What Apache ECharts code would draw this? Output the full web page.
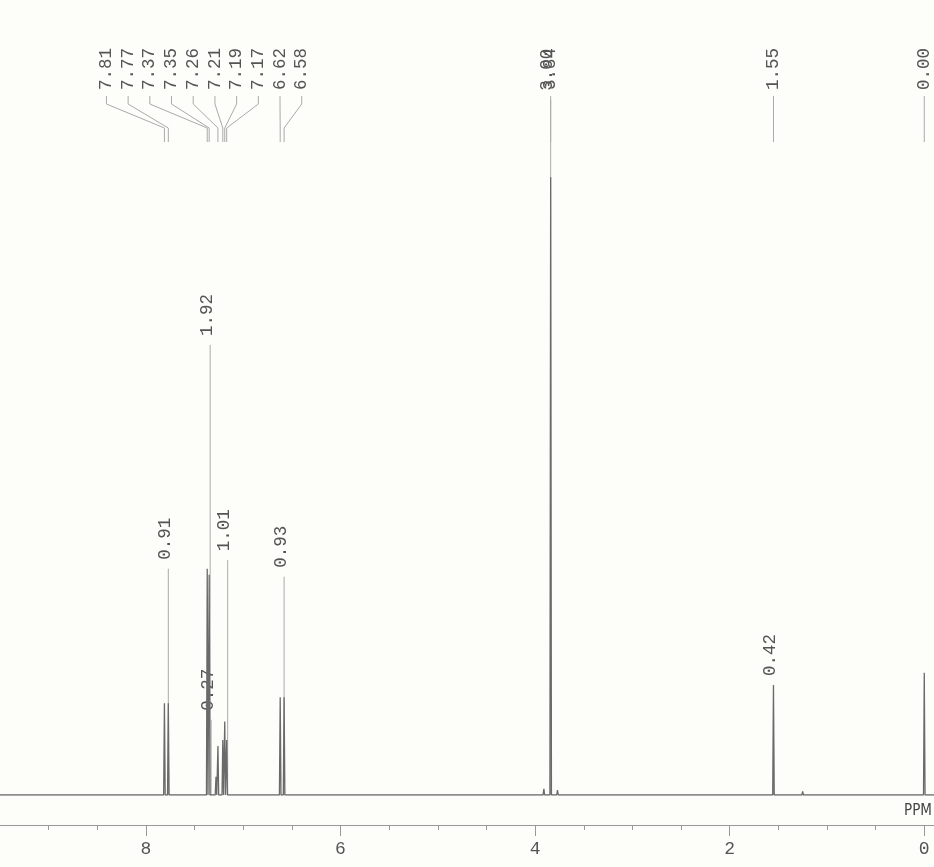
<!DOCTYPE html>
<html><head><meta charset="utf-8">
<script src="https://cdn.jsdelivr.net/npm/echarts@6/dist/echarts.min.js"></script>
<style>html,body{margin:0;padding:0;background:#fdfdfa}#c{width:934px;height:867px}</style>
</head><body><div id="c"></div>
<script>
// Peaks (ppm, relative intensity)
const peakPpm    = [7.81, 7.77, 7.37, 7.35, 7.28, 7.26, 7.21, 7.19, 7.17, 6.62, 6.58, 3.91, 3.84, 3.77, 1.55, 1.25, 0.00];
const peakHeight = [15,   15,   37,   36,   3,    8,    9,    12,   9,    16,   16,   1,    101,  0.8,  18,   0.6,  20];
// Peak pick labels
const groupLabels = ['7.81','7.77','7.37','7.35','7.26','7.21','7.19','7.17','6.62','6.58'];
const singleLabels = ['3.84','1.55','0.00'];
// Integrals
const integralPpm  = [7.77, 7.34, 7.33, 7.16, 6.58, 3.84, 1.55];
const integralTop  = [37,   73.6, 12.3, 38.4, 35.7, 113.7, 18];
const integralText = ['0.91','1.92','0.27','1.01','0.93','3.00','0.42'];
// Axis ticks
const minorTicks = [0,0.5,1,1.5,2,2.5,3,3.5,4,4.5,5,5.5,6,6.5,7,7.5,8,8.5,9];
const majorTicks = [0,2,4,6,8];

const HW = 0.008;
const order = peakPpm.map((p,i)=>i).sort((a,b)=>peakPpm[b]-peakPpm[a]);
const spec = [[9.5,0]];
order.forEach(i=>{ spec.push([peakPpm[i]+HW,0],[peakPpm[i],peakHeight[i]],[peakPpm[i]-HW,0]); });
spec.push([-0.1,0]);

const FONT = '17.5px "Liberation Mono", monospace';
const chart = echarts.init(document.getElementById('c'));
const option = {
  backgroundColor:'#fdfdfa',
  animation:false,
  grid:{left:0,right:0,top:0,bottom:72},
  xAxis:[
    {type:'value',min:-0.1,max:9.5,inverse:true,show:false},
    {type:'value',min:-0.1,max:9.5,inverse:true,position:'bottom',offset:30,
     axisLine:{show:true,lineStyle:{color:'#999',width:1}},
     axisTick:{show:true,customValues:minorTicks,length:5,lineStyle:{color:'#999'}},
     axisLabel:{show:false},splitLine:{show:false}},
    {type:'value',min:-0.1,max:9.5,inverse:true,position:'bottom',offset:30,
     axisLine:{show:false},
     axisTick:{show:true,customValues:majorTicks,length:11,lineStyle:{color:'#999'}},
     axisLabel:{show:true,customValues:majorTicks,margin:15,color:'#555',
       fontFamily:'Liberation Mono',fontSize:18,formatter:v=>String(Math.round(v))},
     splitLine:{show:false}}
  ],
  yAxis:{type:'value',min:0,max:130,show:false},
  series:[
    {type:'line',data:spec,symbol:'none',xAxisIndex:0,
     lineStyle:{color:'#6a6a6a',width:1.3},z:3},
    {type:'custom',xAxisIndex:0,
     data:integralPpm.map((p,i)=>[p,integralTop[i],i]),
     renderItem:(params,api)=>{
       const i=api.value(2);
       const b=api.coord([api.value(0),0]);
       const t=api.coord([api.value(0),api.value(1)]);
       return {type:'group',children:[
         {type:'line',shape:{x1:b[0],y1:b[1],x2:t[0],y2:t[1]},style:{stroke:'#aaa',lineWidth:1}},
         {type:'text',x:t[0]-3,y:t[1]-9,rotation:Math.PI/2,
          style:{text:integralText[i],fill:'#555',font:FONT,align:'left',verticalAlign:'middle'}}
       ]};
     },z:2}
  ]
};
chart.setOption(option);

const px = v => chart.convertToPixel({xAxisIndex:0}, v);
const g = [];
const LABEL_BOTTOM = 90;
const lbl = (x,text)=>({type:'text',x:x,y:LABEL_BOTTOM,rotation:Math.PI/2,
  style:{text:text,fill:'#555',font:FONT,align:'left',verticalAlign:'middle'}});
const first = px(parseFloat(groupLabels[0]));
groupLabels.forEach((t,i)=>{
  const sx = first - 58 + i*21.7;
  const pk = px(parseFloat(t));
  g.push(lbl(sx,t));
  g.push({type:'polyline',shape:{points:[[sx,LABEL_BOTTOM+6],[sx,104],[pk,128],[pk,142]]},
    style:{stroke:'#aaa',lineWidth:1,fill:null}});
});
singleLabels.forEach(t=>{
  const pk = px(parseFloat(t));
  g.push(lbl(pk,t));
  g.push({type:'line',shape:{x1:pk,y1:LABEL_BOTTOM+6,x2:pk,y2:142},style:{stroke:'#aaa',lineWidth:1}});
});
g.push({type:'text',right:2,top:804,style:{text:'PPM',fill:'#444',font:'15px "Liberation Sans Narrow","DejaVu Sans Condensed",sans-serif'}});
chart.setOption({graphic:g});
</script>
</body></html>
